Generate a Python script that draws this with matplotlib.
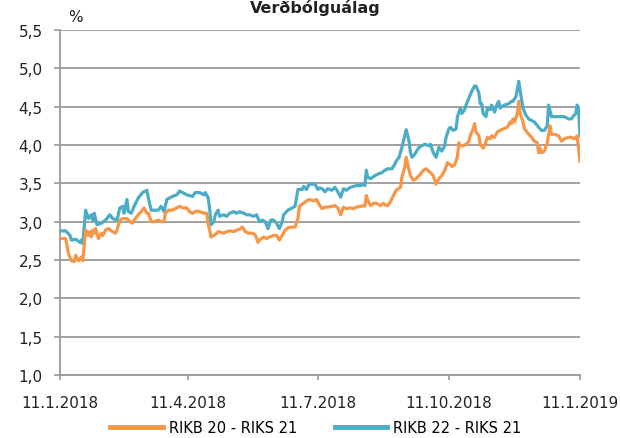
import pandas as pd
import matplotlib.pyplot as plt
from matplotlib.ticker import FuncFormatter

# Dagar frá 11.1.2018 og verðbólguálag (%)
upphaf = "2018-01-11"

dagar_20 = [0, 4, 6, 8, 10, 11, 13, 15, 16, 17, 18, 20, 21, 22, 23, 24, 25, 27, 29, 30,
            32, 34, 36, 37, 39, 40, 42, 44, 47, 49, 51, 52, 55, 57, 59, 61, 62, 64, 66, 69,
            71, 73, 74, 76, 79, 82, 84, 86, 89, 91, 93, 94, 96, 98, 101, 103, 104, 106, 109, 111,
            115, 117, 119, 122, 124, 126, 128, 130, 132, 135, 137, 139, 140, 143, 145, 147, 150, 152, 154, 156,
            158, 160, 163, 165, 167, 168, 171, 173, 175, 178, 180, 182, 184, 186, 188, 191, 193, 195, 197, 199,
            201, 204, 206, 208, 211, 213, 214, 215, 216, 218, 220, 222, 225, 227, 229, 230, 232, 234, 236, 239,
            240, 242, 243, 244, 246, 248, 250, 253, 255, 257, 260, 262, 264, 266, 268, 270, 272, 274, 275, 277,
            279, 280, 281, 283, 285, 287, 288, 290, 291, 292, 294, 295, 297, 298, 300, 302, 303, 305, 307, 309,
            311, 314, 316, 317, 318, 319, 321, 322, 323, 325, 326, 329, 331, 333, 335, 336, 337, 338, 340, 342,
            344, 345, 347, 350, 352, 354, 357, 359, 361, 363, 364, 365]
rikb20 = [2.78, 2.78, 2.58, 2.49, 2.48, 2.56, 2.49, 2.54, 2.49, 2.69, 2.89, 2.82, 2.87, 2.80, 2.89, 2.85, 2.91, 2.78, 2.85, 2.82,
          2.89, 2.91, 2.88, 2.87, 2.85, 2.89, 3.02, 3.04, 3.04, 3.00, 2.98, 3.02, 3.09, 3.13, 3.18, 3.11, 3.11, 3.00, 3.00, 3.02,
          3.00, 3.00, 3.11, 3.15, 3.15, 3.18, 3.20, 3.18, 3.18, 3.13, 3.11, 3.12, 3.14, 3.13, 3.11, 3.11, 2.98, 2.80, 2.83, 2.87,
          2.85, 2.87, 2.88, 2.87, 2.89, 2.90, 2.93, 2.87, 2.85, 2.85, 2.83, 2.73, 2.76, 2.80, 2.78, 2.80, 2.82, 2.82, 2.76, 2.82,
          2.89, 2.92, 2.93, 2.93, 3.04, 3.20, 3.24, 3.27, 3.29, 3.27, 3.29, 3.22, 3.17, 3.19, 3.19, 3.20, 3.21, 3.18, 3.09, 3.19,
          3.17, 3.18, 3.17, 3.19, 3.20, 3.21, 3.20, 3.34, 3.28, 3.21, 3.24, 3.24, 3.21, 3.24, 3.21, 3.21, 3.26, 3.34, 3.41, 3.45,
          3.58, 3.71, 3.84, 3.75, 3.60, 3.54, 3.56, 3.62, 3.67, 3.69, 3.64, 3.60, 3.49, 3.56, 3.60, 3.67, 3.77, 3.74, 3.72, 3.74,
          3.85, 4.03, 3.99, 3.99, 4.01, 4.05, 4.12, 4.21, 4.28, 4.17, 4.12, 4.01, 3.96, 3.99, 4.10, 4.08, 4.12, 4.10, 4.17, 4.19,
          4.21, 4.23, 4.30, 4.28, 4.34, 4.30, 4.41, 4.57, 4.41, 4.30, 4.21, 4.14, 4.10, 4.05, 4.03, 3.90, 3.96, 3.90, 3.92, 4.03,
          4.25, 4.14, 4.14, 4.12, 4.05, 4.08, 4.10, 4.10, 4.08, 4.12, 3.96, 3.79]

dagar_22 = [0, 4, 7, 8, 11, 14, 15, 16, 18, 20, 22, 23, 24, 26, 29, 32, 35, 37, 40, 42,
            44, 45, 47, 48, 50, 52, 55, 58, 61, 62, 64, 66, 69, 71, 73, 75, 77, 79, 82, 84,
            86, 89, 91, 93, 95, 98, 101, 102, 104, 105, 106, 108, 109, 111, 112, 115, 117, 119, 122, 124,
            126, 129, 131, 133, 136, 138, 140, 142, 144, 146, 148, 150, 152, 154, 156, 157, 160, 163, 165, 166,
            167, 170, 171, 173, 175, 177, 179, 181, 182, 184, 186, 188, 191, 193, 195, 197, 199, 201, 204, 206,
            208, 211, 213, 214, 215, 216, 218, 221, 223, 226, 228, 230, 233, 235, 236, 238, 240, 242, 243, 245,
            246, 247, 249, 252, 254, 256, 259, 260, 262, 264, 266, 268, 270, 271, 273, 274, 276, 278, 279, 281,
            282, 284, 285, 287, 289, 291, 292, 294, 295, 296, 297, 299, 300, 302, 303, 305, 307, 308, 309, 310,
            312, 315, 317, 318, 320, 321, 322, 324, 325, 327, 329, 331, 333, 336, 338, 340, 342, 343, 345, 347,
            351, 354, 357, 359, 360, 362, 363, 364, 365]
rikb22 = [2.88, 2.88, 2.82, 2.76, 2.77, 2.73, 2.76, 2.71, 3.15, 3.04, 3.09, 3.02, 3.11, 2.96, 2.98, 3.02, 3.09, 3.04, 3.02, 3.18,
          3.20, 3.11, 3.29, 3.13, 3.11, 3.20, 3.31, 3.38, 3.41, 3.31, 3.15, 3.15, 3.15, 3.20, 3.13, 3.29, 3.31, 3.33, 3.35, 3.40,
          3.38, 3.35, 3.34, 3.33, 3.38, 3.38, 3.35, 3.38, 3.31, 3.18, 2.96, 3.00, 3.09, 3.15, 3.07, 3.09, 3.07, 3.11, 3.13, 3.11,
          3.13, 3.11, 3.09, 3.09, 3.07, 3.09, 3.00, 3.02, 3.00, 2.91, 3.02, 3.02, 2.98, 2.91, 3.00, 3.09, 3.15, 3.18, 3.20, 3.31,
          3.42, 3.42, 3.46, 3.42, 3.49, 3.49, 3.49, 3.42, 3.44, 3.43, 3.39, 3.43, 3.41, 3.45, 3.39, 3.32, 3.43, 3.41, 3.45, 3.46,
          3.47, 3.47, 3.49, 3.47, 3.67, 3.58, 3.56, 3.60, 3.62, 3.64, 3.67, 3.69, 3.69, 3.75, 3.79, 3.84, 3.97, 4.12, 4.20, 4.05,
          3.90, 3.84, 3.88, 3.97, 3.99, 4.01, 3.99, 4.01, 3.90, 3.84, 3.97, 3.92, 3.99, 4.10, 4.21, 4.23, 4.19, 4.21, 4.37, 4.48,
          4.41, 4.46, 4.52, 4.61, 4.70, 4.77, 4.77, 4.68, 4.54, 4.54, 4.41, 4.37, 4.48, 4.46, 4.52, 4.43, 4.54, 4.57, 4.48, 4.50,
          4.52, 4.54, 4.57, 4.57, 4.63, 4.72, 4.83, 4.59, 4.48, 4.39, 4.34, 4.32, 4.30, 4.23, 4.19, 4.19, 4.25, 4.52, 4.37, 4.37,
          4.37, 4.37, 4.34, 4.34, 4.37, 4.41, 4.52, 4.46, 4.12]

heiti = ["RIKB 20 - RIKS 21", "RIKB 22 - RIKS 21"]
titill = "Verðbólguálag"
merki_x = ["2018-01-11", "2018-04-11", "2018-07-11", "2018-10-11", "2019-01-11"]
merki_y = [1.0, 1.5, 2.0, 2.5, 3.0, 3.5, 4.0, 4.5, 5.0, 5.5]

start = pd.Timestamp(upphaf)
x20 = start + pd.to_timedelta(dagar_20, unit="D")
x22 = start + pd.to_timedelta(dagar_22, unit="D")
ticks_x = pd.to_datetime(merki_x)

plt.rcParams["font.family"] = ["DejaVu Sans"]
grar = "#9a9a9a"

fig = plt.figure(figsize=(6.2, 4.39), dpi=100)
ax = fig.add_axes([60 / 620, 1 - 376 / 439, 520 / 620, 345 / 439])

# appelsínugula línan teiknuð ofan á þá bláu
ax.plot(x22, rikb22, color="#4BACC6", lw=2.3, zorder=3, label=heiti[1])
ax.plot(x20, rikb20, color="#F79646", lw=2.3, zorder=4, label=heiti[0])

ax.set_xlim(ticks_x[0], ticks_x[-1])
ax.set_ylim(1.0, 5.5)
ax.set_xticks(ticks_x)
ax.set_xticklabels([f"{d.day}.{d.month}.{d.year}" for d in ticks_x])
ax.set_yticks(merki_y)
ax.yaxis.set_major_formatter(FuncFormatter(lambda v, p: f"{v:.1f}".replace(".", ",")))

ax.grid(axis="y", color=grar, lw=1.3, zorder=1)
ax.set_axisbelow(True)
for s in ["top", "right"]:
    ax.spines[s].set_visible(False)
for s in ["left", "bottom"]:
    ax.spines[s].set_color(grar)
    ax.spines[s].set_linewidth(1.3)
    ax.spines[s].set_zorder(2)

ax.tick_params(axis="y", length=4.5, width=1.2, color=grar, pad=8, labelsize=11, labelcolor="#222222")
ax.tick_params(axis="x", length=3.5, width=1.2, color=grar, pad=11, labelsize=11, labelcolor="#222222")

fig.text(75 / 620, 1 - 17 / 439, "%", ha="center", va="center", fontsize=11, color="#222222")
fig.text(315 / 620, 1 - 13 / 439, titill, ha="center", va="baseline", fontsize=11.5,
         fontweight="bold", color="#222222")

handles, labels = ax.get_legend_handles_labels()
leg = fig.legend(handles[::-1], labels[::-1], loc="center", bbox_to_anchor=(316 / 620, 1 - 429 / 439),
                 ncol=2, frameon=False, fontsize=10.5, handlelength=3.6, handletextpad=0.4,
                 columnspacing=2.6, borderaxespad=0)
for line in leg.get_lines():
    line.set_linewidth(3.5)

fig.savefig("out.png", dpi=100)
